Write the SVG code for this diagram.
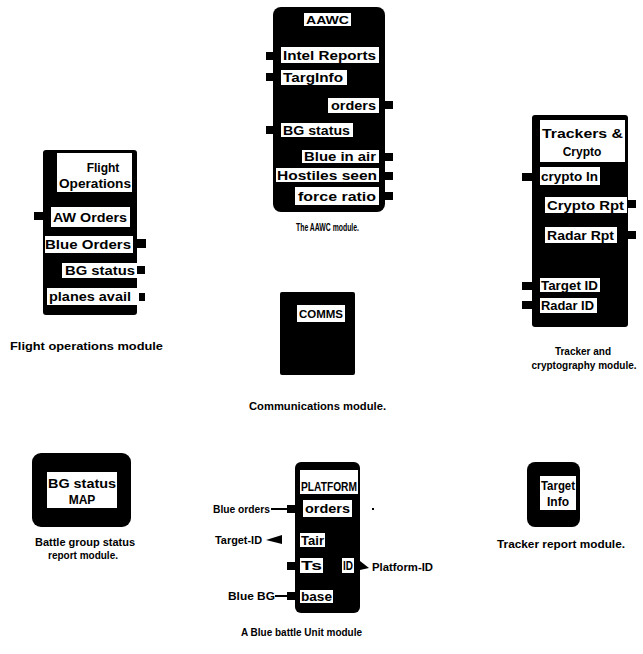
<svg xmlns="http://www.w3.org/2000/svg" width="643" height="654" viewBox="0 0 643 654">
<style>
.blk{fill:#000}
.wb{fill:#fff}
.port{fill:#000}
.t{font-family:"Liberation Sans",Arial,sans-serif;font-weight:bold;font-size:12px;fill:#000}
.s{font-size:10px}
.cap{font-family:"Liberation Sans",Arial,sans-serif;font-weight:bold;font-size:10px;fill:#000}
.ln{stroke:#000;stroke-width:2;fill:none}
</style>
<rect width="643" height="654" fill="#fff"/>

<g id="aawc">
<rect class="blk" x="273" y="7" width="112" height="205" rx="8"/>
<rect class="wb" x="304" y="13" width="47" height="13"/>
<text class="t s" x="306" y="23.5" textLength="43" lengthAdjust="spacingAndGlyphs">AAWC</text>
<rect class="wb" x="281" y="47" width="98" height="16"/>
<text class="t" x="283" y="60" textLength="93" lengthAdjust="spacingAndGlyphs">Intel Reports</text>
<rect class="port" x="266" y="52" width="7" height="8"/>
<rect class="wb" x="281" y="70" width="66" height="15"/>
<text class="t" x="283" y="82" textLength="60" lengthAdjust="spacingAndGlyphs">TargInfo</text>
<rect class="port" x="266" y="73" width="7" height="8"/>
<rect class="wb" x="328" y="98" width="51" height="15"/>
<text class="t" x="331" y="110" textLength="45" lengthAdjust="spacingAndGlyphs">orders</text>
<rect class="port" x="385" y="101" width="8" height="8"/>
<rect class="wb" x="281" y="123" width="72" height="14"/>
<text class="t" x="283" y="134.5" textLength="67" lengthAdjust="spacingAndGlyphs">BG status</text>
<rect class="port" x="266" y="126" width="7" height="8"/>
<rect class="wb" x="302" y="150" width="77" height="13"/>
<text class="t" x="304" y="161" textLength="72" lengthAdjust="spacingAndGlyphs">Blue in air</text>
<rect class="port" x="385" y="153" width="8" height="8"/>
<rect class="wb" x="276" y="168" width="103" height="14"/>
<text class="t" x="277" y="180" textLength="100" lengthAdjust="spacingAndGlyphs">Hostiles seen</text>
<rect class="port" x="385" y="172" width="8" height="8"/>
<rect class="wb" x="295" y="187" width="84" height="18"/>
<text class="t" x="298" y="201" textLength="78" lengthAdjust="spacingAndGlyphs">force ratio</text>
<rect class="port" x="385" y="192" width="8" height="8"/>
<text class="cap" x="296" y="231" textLength="63" lengthAdjust="spacingAndGlyphs">The AAWC module.</text>
</g>

<g id="flightops">
<rect class="blk" x="43" y="150" width="94" height="165" rx="3"/>
<rect class="wb" x="57" y="153" width="75" height="39"/>
<text class="t" x="103" y="172" text-anchor="middle">Flight</text>
<text class="t" x="59" y="188" textLength="72" lengthAdjust="spacingAndGlyphs">Operations</text>
<rect class="wb" x="51" y="207" width="79" height="20"/>
<text class="t" x="53" y="222" textLength="74" lengthAdjust="spacingAndGlyphs">AW Orders</text>
<rect class="port" x="34" y="212" width="9" height="8"/>
<rect class="wb" x="45" y="236" width="88" height="17"/>
<text class="t" x="45" y="249" textLength="86" lengthAdjust="spacingAndGlyphs">Blue Orders</text>
<rect class="port" x="137" y="239" width="9" height="9"/>
<rect class="wb" x="62" y="263" width="75" height="15"/>
<text class="t" x="65" y="275" textLength="70" lengthAdjust="spacingAndGlyphs">BG status</text>
<rect class="port" x="137" y="266" width="8" height="8"/>
<rect class="wb" x="47" y="288" width="90" height="17"/>
<text class="t" x="49" y="301" textLength="82" lengthAdjust="spacingAndGlyphs">planes avail</text>
<rect class="port" x="139" y="293" width="6" height="8"/>
<text class="cap" x="10" y="350" textLength="153" lengthAdjust="spacingAndGlyphs">Flight operations module</text>
</g>

<g id="trackers">
<rect class="blk" x="532" y="115" width="96" height="212" rx="3"/>
<rect class="wb" x="540" y="120" width="85" height="42"/>
<text class="t" x="542" y="138" textLength="81" lengthAdjust="spacingAndGlyphs">Trackers &amp;</text>
<text class="t" x="582" y="156" text-anchor="middle" font-size="13">Crypto</text>
<rect class="wb" x="540" y="167" width="60" height="18"/>
<text class="t" x="541" y="181" textLength="57" lengthAdjust="spacingAndGlyphs">crypto In</text>
<rect class="port" x="522" y="173" width="10" height="8"/>
<rect class="wb" x="545" y="197" width="82" height="16"/>
<text class="t" x="547" y="209.5" textLength="77" lengthAdjust="spacingAndGlyphs">Crypto Rpt</text>
<rect class="port" x="628" y="200" width="8" height="8"/>
<rect class="wb" x="545" y="227" width="72" height="16"/>
<text class="t" x="547" y="239.5" textLength="67" lengthAdjust="spacingAndGlyphs">Radar Rpt</text>
<rect class="port" x="628" y="231" width="8" height="8"/>
<rect class="wb" x="540" y="278" width="60" height="14"/>
<text class="t" x="541" y="289.5" textLength="57" lengthAdjust="spacingAndGlyphs">Target ID</text>
<rect class="port" x="522" y="282" width="10" height="8"/>
<rect class="wb" x="540" y="298" width="57" height="15"/>
<text class="t" x="541" y="310" textLength="53" lengthAdjust="spacingAndGlyphs">Radar ID</text>
<rect class="port" x="522" y="301" width="10" height="8"/>
<text class="cap" x="583" y="355" text-anchor="middle">Tracker and</text>
<text class="cap" x="584" y="369" text-anchor="middle" font-size="8.5">cryptography module.</text>
</g>

<g id="comms">
<rect class="blk" x="280" y="292" width="75" height="83" rx="2"/>
<rect class="wb" x="297" y="305" width="48" height="17"/>
<text class="t s" x="299" y="318" textLength="44" lengthAdjust="spacingAndGlyphs">COMMS</text>
<text class="cap" x="249" y="410" textLength="137" lengthAdjust="spacingAndGlyphs">Communications module.</text>
</g>

<g id="bgstatusmap">
<rect class="blk" x="32" y="453" width="99" height="74" rx="9"/>
<rect class="wb" x="47" y="472" width="70" height="36"/>
<text class="t" x="82" y="488" text-anchor="middle" textLength="68" lengthAdjust="spacingAndGlyphs">BG status</text>
<text class="t" x="82" y="504" text-anchor="middle">MAP</text>
<text class="cap" x="85" y="546" text-anchor="middle" textLength="100" lengthAdjust="spacingAndGlyphs">Battle group status</text>
<text class="cap" x="83" y="559" text-anchor="middle" textLength="70" lengthAdjust="spacingAndGlyphs">report module.</text>
</g>

<g id="targetinfo">
<rect class="blk" x="527" y="462" width="53" height="65" rx="8"/>
<rect class="wb" x="540" y="476" width="36" height="34"/>
<text class="t" x="558" y="490" text-anchor="middle" textLength="34" lengthAdjust="spacingAndGlyphs">Target</text>
<text class="t" x="558" y="506" text-anchor="middle">Info</text>
<text class="cap" x="497" y="548" textLength="128" lengthAdjust="spacingAndGlyphs">Tracker report module.</text>
</g>

<g id="platform">
<rect class="blk" x="295" y="462" width="65" height="151" rx="6"/>
<rect class="wb" x="300" y="470" width="58" height="24"/>
<text class="t" x="301" y="491" font-size="9" textLength="56" lengthAdjust="spacingAndGlyphs">PLATFORM</text>
<rect class="wb" x="303" y="500" width="49" height="17"/>
<text class="t" x="305" y="513" textLength="45" lengthAdjust="spacingAndGlyphs">orders</text>
<rect class="port" x="287" y="505" width="8" height="8"/>
<rect class="wb" x="300" y="533" width="25" height="14"/>
<text class="t" x="301" y="545" textLength="23" lengthAdjust="spacingAndGlyphs">Tair</text>
<rect class="wb" x="300" y="558" width="23" height="15"/>
<text class="t" x="301" y="570" textLength="21" lengthAdjust="spacingAndGlyphs">Ts</text>
<rect class="port" x="287" y="562" width="8" height="8"/>
<rect class="wb" x="342" y="558" width="12" height="15"/>
<text class="t" x="343" y="570" textLength="10" lengthAdjust="spacingAndGlyphs">ID</text>
<rect class="wb" x="300" y="590" width="33" height="13"/>
<text class="t" x="301" y="601" textLength="31" lengthAdjust="spacingAndGlyphs">base</text>
<rect class="port" x="287" y="592" width="8" height="8"/>
<text class="cap" x="213" y="513" textLength="57" lengthAdjust="spacingAndGlyphs">Blue orders</text>
<text class="cap" x="215" y="544" textLength="47" lengthAdjust="spacingAndGlyphs">Target-ID</text>
<text class="cap" x="228" y="600" textLength="47" lengthAdjust="spacingAndGlyphs">Blue BG</text>
<text class="cap" x="372" y="571" textLength="61" lengthAdjust="spacingAndGlyphs">Platform-ID</text>
<text class="cap" x="241" y="636" textLength="121" lengthAdjust="spacingAndGlyphs">A Blue battle Unit module</text>
</g>

<g id="connectors">
<line class="ln" x1="271" y1="509" x2="287" y2="509"/>
<line class="ln" x1="275" y1="596" x2="287" y2="596"/>
<polygon class="blk" points="266,540 282,535 282,544"/>
<polygon class="blk" points="360,561 369,568 360,570"/>
<rect class="blk" x="372" y="508" width="2" height="2"/>
</g>
</svg>
